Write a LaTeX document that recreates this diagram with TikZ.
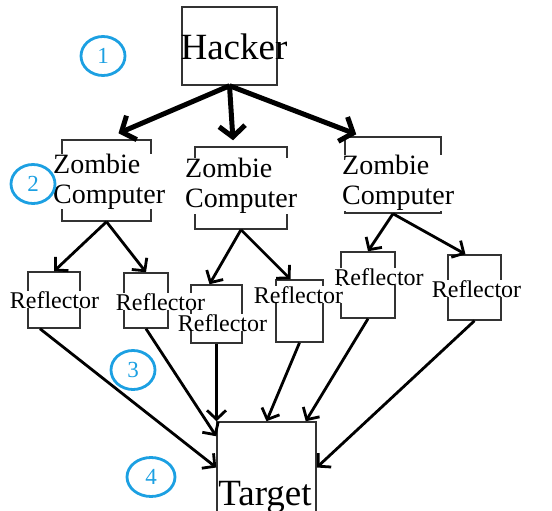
\documentclass[tikz,border=0pt]{standalone}
\usepackage{fontspec}
\setmainfont{Liberation Serif}
\usetikzlibrary{arrows.meta,shapes.geometric}
\definecolor{numblue}{RGB}{28,160,226}
\tikzset{
	box/.style={draw=black!80, line width=1.5pt, inner sep=0pt},
	lbl/.style={fill=white, inner sep=0pt, align=left},
	numc/.style={ellipse, draw=numblue, text=numblue, line width=2.8pt, minimum width=44pt, minimum height=39pt, font=\fontsize{23}{23}\selectfont},
	bigarr/.style={line width=5pt, -{Straight Barb[length=11pt,width=26pt]}},
	arr/.style={line width=2.8pt, -{Straight Barb[length=9pt,width=19pt]}}
}
\begin{document}
\begin{tikzpicture}[x=1pt,y=-1pt]
	\useasboundingbox (0,0) rectangle (552,511);

	% Kaesten
	\node[box, minimum width=95pt, minimum height=78pt] (hacker) at (229.5,46) {};
	\node[box, minimum width=89pt, minimum height=81pt] (z1) at (106.5,180.5) {};
	\node[box, minimum width=92pt, minimum height=82pt] (z2) at (241,188) {};
	\node[box, minimum width=96pt, minimum height=76pt] (z3) at (393,175) {};
	\node[box, minimum width=52pt, minimum height=56pt] (r1) at (54,300) {};
	\node[box, minimum width=44pt, minimum height=55pt] (r2) at (146,300.5) {};
	\node[box, minimum width=51pt, minimum height=58pt] (r3) at (216.5,314) {};
	\node[box, minimum width=47pt, minimum height=62pt] (r4) at (299.5,311) {};
	\node[box, minimum width=54pt, minimum height=66pt] (r5) at (368,285) {};
	\node[box, minimum width=53pt, minimum height=65pt] (r6) at (474.5,287.5) {};
	\node[box, minimum width=99pt, minimum height=91pt] (tgt) at (266.5,467.5) {};

	% Hacker -> Zombies
	\draw[bigarr] (hacker.south) -- ([xshift=12pt,yshift=6pt]z1.north);
	\draw[bigarr] (hacker.south) -- ([xshift=-8pt,yshift=6pt]z2.north);
	\draw[bigarr] (hacker.south) -- ([xshift=12pt,yshift=2pt]z3.north west);

	% Zombies -> Reflektoren
	\draw[arr] (z1.south) -- (r1.north);
	\draw[arr] (z1.south) -- (r2.north);
	\draw[arr] (z2.south) -- ([xshift=-7pt]r3.north);
	\draw[arr] (z2.south) -- ([xshift=-9pt]r4.north);
	\draw[arr] (z3.south) -- (r5.north);
	\draw[arr] (z3.south) -- ([xshift=-9pt]r6.north);

	% Reflektoren -> Ziel
	\draw[arr] ([xshift=-14pt]r1.south) -- (tgt.west);
	\draw[arr] (r2.south) -- ([yshift=-15pt]tgt.north west);
	\draw[arr] (r3.south) -- (r3.south |- tgt.north);
	\draw[arr] (r4.south) -- (tgt.north);
	\draw[arr] (r5.south) -- ([xshift=-11pt]tgt.north east);
	\draw[arr] (r6.south) -- (tgt.east);

	% Beschriftungen
	\node[anchor=base, inner sep=0pt, font=\fontsize{37}{37}\selectfont] (thacker) at (234,60) {Hacker};
	\node[lbl, anchor=west, font=\fontsize{28}{30}\selectfont] (tz1) at (53,181.5) {Zombie\\Computer};
	\node[lbl, anchor=west, font=\fontsize{28}{30}\selectfont] (tz2) at (185,186) {Zombie\\Computer};
	\node[lbl, anchor=west, font=\fontsize{28}{30}\selectfont] (tz3) at (342,183) {Zombie\\Computer};
	\node[lbl, anchor=base, font=\fontsize{24}{24}\selectfont] (tr1) at (54.5,308) {Reflector};
	\node[lbl, anchor=base, font=\fontsize{24}{24}\selectfont] (tr2) at (160.5,310) {Reflector};
	\node[lbl, anchor=base, font=\fontsize{24}{24}\selectfont] (tr3) at (222.5,331) {Reflector};
	\node[lbl, anchor=base, font=\fontsize{24}{24}\selectfont] (tr4) at (298.5,303) {Reflector};
	\node[lbl, anchor=base, font=\fontsize{24}{24}\selectfont] (tr5) at (379,285) {Reflector};
	\node[lbl, anchor=base, font=\fontsize{24}{24}\selectfont] (tr6) at (476.5,297) {Reflector};
	\node[anchor=base, inner sep=0pt, font=\fontsize{37}{37}\selectfont] (ttgt) at (265,505) {Target};

	% Nummern
	\node[numc] (n1) at (103,56) {1};
	\node[numc] (n2) at (33,184) {2};
	\node[numc] (n3) at (133,370) {3};
	\node[numc, minimum width=48pt] (n4) at (151,477) {4};
\end{tikzpicture}
\end{document}
